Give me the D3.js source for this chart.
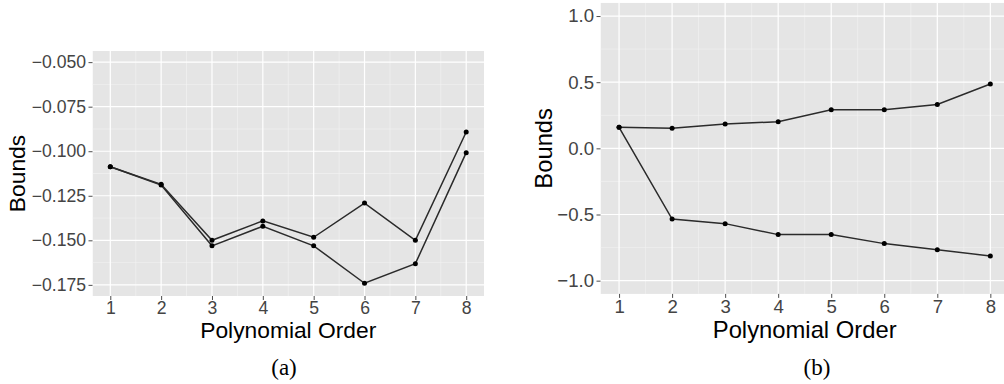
<!DOCTYPE html>
<html>
<head>
<meta charset="utf-8">
<script src="https://cdn.jsdelivr.net/npm/d3@7"></script>
<style>
  html, body { margin: 0; padding: 0; background: #ffffff; }
  svg { display: block; }
</style>
</head>
<body>
<svg id="chart" width="1004" height="384"></svg>
<script>
// ---- data ----
const orders = [1, 2, 3, 4, 5, 6, 7, 8];
const xTicks = [1, 2, 3, 4, 5, 6, 7, 8];

// panel (a)
const aUpper = [-0.1087, -0.1186, -0.1500, -0.1391, -0.1483, -0.1291, -0.1500, -0.0892];
const aLower = [-0.1087, -0.1190, -0.1531, -0.1421, -0.1531, -0.1741, -0.1631, -0.1008];
const aYTicks = [-0.175, -0.150, -0.125, -0.100, -0.075, -0.050];
const aYMinor = [-0.1625, -0.1375, -0.1125, -0.0875, -0.0625];
const aYDomain = [-0.18125, -0.04375];

// panel (b)
const bUpper = [0.159, 0.151, 0.184, 0.201, 0.292, 0.292, 0.332, 0.486];
const bLower = [0.159, -0.534, -0.569, -0.652, -0.652, -0.720, -0.767, -0.813];
const bYTicks = [-1.0, -0.5, 0.0, 0.5, 1.0];
const bYMinor = [-0.75, -0.25, 0.25, 0.75];
const bYDomain = [-1.1, 1.1];

const xMinor = [1.5, 2.5, 3.5, 4.5, 5.5, 6.5, 7.5];
const xDomain = [0.65, 8.35];

const xTitle = "Polynomial Order";
const yTitle = "Bounds";

const svg = d3.select("#chart");

function panel(cfg) {
  const x = d3.scaleLinear().domain(xDomain).range([cfg.left, cfg.right]);
  const y = d3.scaleLinear().domain(cfg.yDomain).range([cfg.bottom, cfg.top]);
  const g = svg.append("g");
  const clipId = "clip-" + cfg.id;
  svg.append("clipPath").attr("id", clipId)
    .append("rect").attr("x", cfg.left).attr("y", cfg.top)
    .attr("width", Math.min(cfg.right, 1004) - cfg.left).attr("height", cfg.bottom - cfg.top);

  const p = g.append("g").attr("clip-path", `url(#${clipId})`);
  p.append("rect").attr("x", cfg.left).attr("y", cfg.top)
    .attr("width", cfg.right - cfg.left).attr("height", cfg.bottom - cfg.top)
    .attr("fill", "#E5E5E5");

  // minor grid
  p.selectAll(".ymin").data(cfg.yMinor).enter().append("line")
    .attr("x1", cfg.left).attr("x2", cfg.right)
    .attr("y1", d => y(d)).attr("y2", d => y(d))
    .attr("stroke", "#F4F4F4").attr("stroke-width", 0.6);
  p.selectAll(".xmin").data(xMinor).enter().append("line")
    .attr("y1", cfg.top).attr("y2", cfg.bottom)
    .attr("x1", d => x(d)).attr("x2", d => x(d))
    .attr("stroke", "#F4F4F4").attr("stroke-width", 0.6);
  // major grid
  p.selectAll(".ymaj").data(cfg.yTicks).enter().append("line")
    .attr("x1", cfg.left).attr("x2", cfg.right)
    .attr("y1", d => y(d)).attr("y2", d => y(d))
    .attr("stroke", "#FFFFFF").attr("stroke-width", 1.2);
  p.selectAll(".xmaj").data(xTicks).enter().append("line")
    .attr("y1", cfg.top).attr("y2", cfg.bottom)
    .attr("x1", d => x(d)).attr("x2", d => x(d))
    .attr("stroke", "#FFFFFF").attr("stroke-width", 1.2);

  // lines
  const line = d3.line().x((d, i) => x(orders[i])).y(d => y(d));
  [cfg.upper, cfg.lower].forEach(series => {
    p.append("path").datum(series).attr("d", line)
      .attr("fill", "none").attr("stroke", "#2b2b2b").attr("stroke-width", 1.5);
    p.selectAll(null).data(series).enter().append("circle")
      .attr("cx", (d, i) => x(orders[i])).attr("cy", d => y(d))
      .attr("r", 2.5).attr("fill", "#000");
  });

  // y axis
  const yAxis = d3.axisLeft(y).tickValues(cfg.yTicks)
    .tickFormat(d3.format(cfg.yFmt)).tickSize(4).tickPadding(2.5);
  const ya = g.append("g").attr("transform", `translate(${cfg.left},0)`).call(yAxis);
  ya.select(".domain").remove();
  ya.selectAll(".tick line").attr("stroke", "#4D4D4D").attr("stroke-width", 1);
  ya.selectAll(".tick text").attr("fill", "#444")
    .style("font-family", "'Liberation Sans', Arial, sans-serif")
    .style("font-size", cfg.tickSize + "px");

  // x axis
  const xAxis = d3.axisBottom(x).tickValues(xTicks).tickFormat(d3.format("d"))
    .tickSize(4).tickPadding(2);
  const xa = g.append("g").attr("transform", `translate(0,${cfg.bottom})`).call(xAxis);
  xa.select(".domain").remove();
  xa.selectAll(".tick line").attr("stroke", "#4D4D4D").attr("stroke-width", 1);
  xa.selectAll(".tick text").attr("fill", "#444")
    .style("font-family", "'Liberation Sans', Arial, sans-serif")
    .style("font-size", cfg.tickSize + "px");

  // titles
  g.append("text").attr("x", (cfg.left + cfg.right) / 2).attr("y", cfg.xTitleY)
    .attr("text-anchor", "middle").attr("fill", "#000")
    .style("font-family", "'Liberation Sans', Arial, sans-serif")
    .style("font-size", cfg.titleSize + "px").text(xTitle);
  g.append("text")
    .attr("transform", `translate(${cfg.yTitleX},${(cfg.top + cfg.bottom) / 2}) rotate(-90)`)
    .attr("text-anchor", "middle").attr("fill", "#000")
    .style("font-family", "'Liberation Sans', Arial, sans-serif")
    .style("font-size", cfg.titleSize + "px").text(yTitle);

  // caption
  g.append("text").attr("x", cfg.capX).attr("y", 375)
    .attr("text-anchor", "middle").attr("fill", "#000")
    .style("font-family", "'Liberation Serif', 'Times New Roman', serif")
    .style("font-size", "23px").text(cfg.caption);
}

panel({
  id: "a", left: 92.5, right: 484, top: 51, bottom: 296,
  yDomain: aYDomain, yTicks: aYTicks, yMinor: aYMinor, yFmt: ".3f",
  upper: aUpper, lower: aLower,
  tickSize: 17.6, titleSize: 22.8, xTitleY: 338, yTitleX: 25,
  capX: 284, caption: "(a)"
});

panel({
  id: "b", left: 600.5, right: 1008.9, top: 2.8, bottom: 293.9,
  yDomain: bYDomain, yTicks: bYTicks, yMinor: bYMinor, yFmt: ".1f",
  upper: bUpper, lower: bLower,
  tickSize: 18.6, titleSize: 23.8, xTitleY: 338, yTitleX: 552,
  capX: 817, caption: "(b)"
});
</script>
</body>
</html>
